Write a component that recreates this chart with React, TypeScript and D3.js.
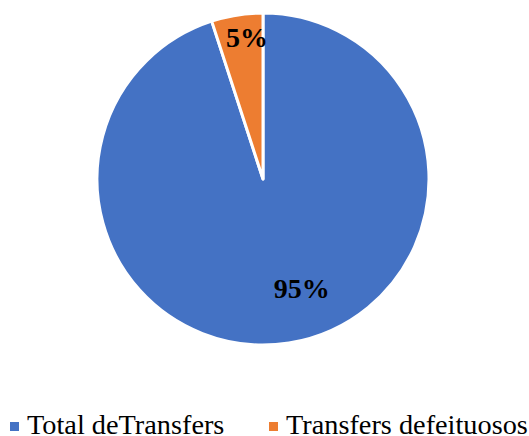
import React from "react";
import * as d3 from "d3";

const categories = ["Total deTransfers", "Transfers defeituosos"];
const values = [95, 5];
const labels = ["95%", "5%"];
const colors = ["#4472C4", "#ED7D31"];

const W = 529;
const H = 436;
const cx = 263;
const cy = 179;
const R = 166;

export default function App() {
  const pie = d3
    .pie<number>()
    .sort(null)
    .value((d) => d);
  const arcs = pie(values);
  const arc = d3.arc<d3.PieArcDatum<number>>().innerRadius(0).outerRadius(R);

  // label placement (polar, Excel-like)
  const labelAngleShift = [-10.5, 2.5];
  const labelRadius = [0.7, 0.855];

  const legendX = [10, 269];

  return (
    <svg
      width={W}
      height={H}
      style={{ position: "absolute", left: 0, top: 0 }}
      fontFamily="'Liberation Serif', 'Times New Roman', serif"
    >
      <rect width={W} height={H} fill="#fff" />
      <g transform={`translate(${cx},${cy})`}>
        {arcs.map((a, i) => (
          <path
            key={i}
            d={arc(a) || ""}
            fill={colors[i]}
            stroke="#fff"
            strokeWidth={3}
            strokeLinejoin="round"
          />
        ))}
        {arcs.map((a, i) => {
          const mid = (a.startAngle + a.endAngle) / 2 + (labelAngleShift[i] * Math.PI) / 180;
          const r = R * labelRadius[i];
          const x = Math.sin(mid) * r;
          const y = -Math.cos(mid) * r;
          return (
            <text
              key={i}
              x={x}
              y={y}
              textAnchor="middle"
              dominantBaseline="central"
              fontSize={28}
              fontWeight="bold"
              fill="#000"
            >
              {labels[i]}
            </text>
          );
        })}
      </g>
      <g>
        {categories.map((c, i) => {
          const x0 = legendX[i];
          return (
            <g key={i}>
              <rect x={x0} y={422} width={9} height={9} fill={colors[i]} />
              <text x={x0 + 17} y={434} fontSize={28.3} fill="#000">
                {c}
              </text>
            </g>
          );
        })}
      </g>
    </svg>
  );
}
